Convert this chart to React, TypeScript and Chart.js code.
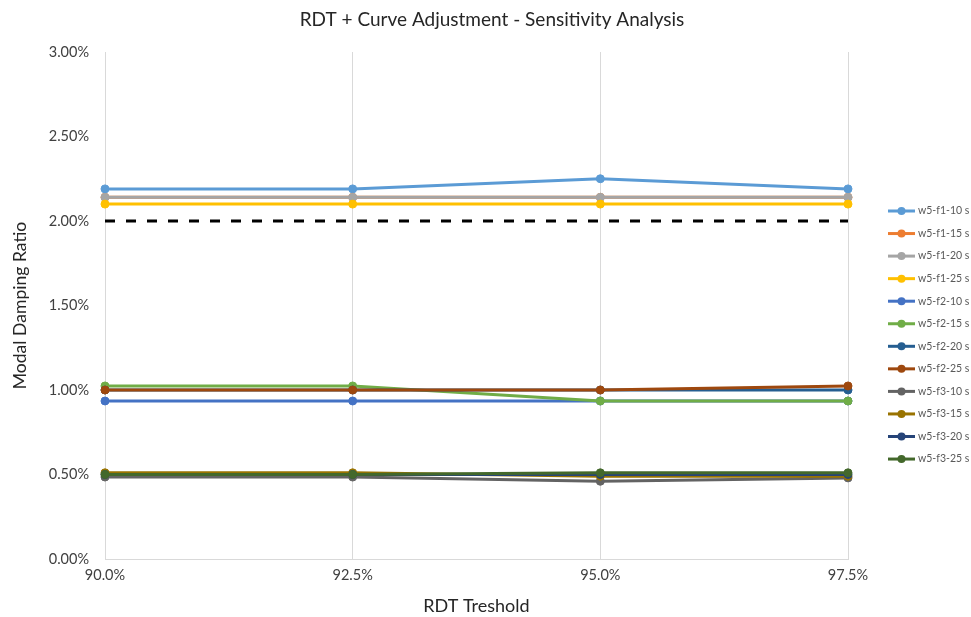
import React, { useEffect, useRef } from 'react';
import { Chart, registerables } from 'chart.js';

Chart.register(...registerables);

const categories = ['90.0%', '92.5%', '95.0%', '97.5%'];

const seriesNames = [
  'w5-f1-10 s', 'w5-f1-15 s', 'w5-f1-20 s', 'w5-f1-25 s',
  'w5-f2-10 s', 'w5-f2-15 s', 'w5-f2-20 s', 'w5-f2-25 s',
  'w5-f3-10 s', 'w5-f3-15 s', 'w5-f3-20 s', 'w5-f3-25 s',
];

const f1_10 = [2.19, 2.19, 2.25, 2.19];
const f1_15 = [2.14, 2.14, 2.14, 2.14];
const f1_20 = [2.14, 2.14, 2.14, 2.14];
const f1_25 = [2.1, 2.1, 2.1, 2.1];
const f2_10 = [0.935, 0.935, 0.935, 0.935];
const f2_15 = [1.024, 1.024, 0.935, 0.935];
const f2_20 = [1.0, 1.0, 1.0, 1.0];
const f2_25 = [1.0, 1.0, 1.0, 1.024];
const f3_10 = [0.485, 0.485, 0.46, 0.48];
const f3_15 = [0.51, 0.51, 0.49, 0.49];
const f3_20 = [0.5, 0.5, 0.5, 0.5];
const f3_25 = [0.5, 0.5, 0.51, 0.51];
const targetLine = [2.0, 2.0, 2.0, 2.0];

const seriesValues = [f1_10, f1_15, f1_20, f1_25, f2_10, f2_15, f2_20, f2_25, f3_10, f3_15, f3_20, f3_25];

const seriesColors = [
  '#5B9BD5', '#ED7D31', '#A5A5A5', '#FFC000',
  '#4472C4', '#70AD47', '#255E91', '#9E480E',
  '#636363', '#997300', '#264478', '#43682B',
];

const yTickValues = [0, 0.5, 1, 1.5, 2, 2.5, 3];

const FONT = 'Lato, "DejaVu Sans", sans-serif';

const sideLegend = {
  id: 'sideLegend',
  afterDraw(chart: any) {
    const ctx = chart.ctx;
    const area = chart.chartArea;
    const x0 = area.right + 40;
    const spacing = 22.55;
    const y0 = area.top + 159;
    const items = chart.data.datasets.filter((d: any) => d.inLegend);
    ctx.save();
    items.forEach((d: any, i: number) => {
      const y = y0 + i * spacing;
      ctx.strokeStyle = d.borderColor;
      ctx.lineWidth = 3;
      ctx.beginPath();
      ctx.moveTo(x0, y);
      ctx.lineTo(x0 + 27, y);
      ctx.stroke();
      ctx.fillStyle = d.borderColor;
      ctx.beginPath();
      ctx.arc(x0 + 13.5, y, 4, 0, Math.PI * 2);
      ctx.fill();
      ctx.fillStyle = '#595959';
      ctx.font = '10.5px ' + FONT;
      ctx.textBaseline = 'middle';
      ctx.textAlign = 'left';
      ctx.fillText(d.label, x0 + 30, y);
    });
    ctx.restore();
  },
};

export default function App() {
  const ref = useRef<HTMLCanvasElement | null>(null);

  useEffect(() => {
    if (!ref.current) return;
    const datasets: any[] = seriesNames.map((name, i) => ({
      label: name,
      data: seriesValues[i],
      borderColor: seriesColors[i],
      backgroundColor: seriesColors[i],
      pointBackgroundColor: seriesColors[i],
      pointBorderColor: seriesColors[i],
      borderWidth: 3,
      pointRadius: 4,
      pointBorderWidth: 1,
      tension: 0,
      fill: false,
      order: 30 - i,
      inLegend: true,
      yAxisID: 'y',
    }));
    datasets.push({
      label: 'target',
      data: targetLine,
      borderColor: '#000000',
      backgroundColor: '#000000',
      borderWidth: 3,
      borderDash: [10, 11],
      pointRadius: 0,
      fill: false,
      order: 40,
      inLegend: false,
      yAxisID: 'y',
    });

    const chart = new Chart(ref.current, {
      type: 'line',
      data: { labels: categories, datasets },
      plugins: [sideLegend],
      options: {
        animation: false,
        responsive: true,
        maintainAspectRatio: false,
        layout: { padding: { left: 13, right: 0, top: 0, bottom: 0 } },
        plugins: {
          legend: { display: false },
          tooltip: { enabled: false },
          title: {
            display: true,
            text: 'RDT + Curve Adjustment - Sensitivity Analysis',
            color: '#262626',
            font: { family: FONT, size: 19, weight: 'normal' },
            padding: { top: 8, bottom: 21.2 },
          },
        },
        scales: {
          x: {
            type: 'category',
            offset: false,
            afterFit(scale: any) { scale.height = 58; },
            grid: { display: true, color: '#D9D9D9', lineWidth: 1, drawTicks: false },
            border: { display: true, color: '#D9D9D9', width: 1 },
            ticks: { color: '#404040', font: { family: FONT, size: 14.5 }, padding: 8, maxRotation: 0 },
            title: {
              display: true,
              text: 'RDT Treshold',
              color: '#262626',
              font: { family: FONT, size: 18 },
              padding: { top: 0, bottom: 0 },
            },
          },
          y: {
            position: 'left',
            min: 0,
            max: 3,
            afterFit(scale: any) { scale.width = 92; },
            afterBuildTicks(scale: any) { scale.ticks = yTickValues.map((v) => ({ value: v })); },
            grid: { display: false, drawTicks: false },
            border: { display: false },
            ticks: {
              color: '#404040',
              font: { family: FONT, size: 14.5 },
              padding: 16,
              callback: (v: any) => Number(v).toFixed(2) + '%',
            },
            title: {
              display: true,
              text: 'Modal Damping Ratio',
              color: '#262626',
              font: { family: FONT, size: 17.6 },
              padding: { top: -3, bottom: 0 },
            },
          },
          legendSpace: {
            type: 'linear',
            position: 'right',
            display: true,
            min: 0,
            max: 3,
            afterFit(scale: any) { scale.width = 123; },
            grid: { display: false, drawTicks: false },
            border: { display: false },
            ticks: { display: false },
          },
        },
      } as any,
    });
    return () => chart.destroy();
  }, []);

  return (
    <div style={{ position: 'fixed', left: 0, top: 0, width: 971, height: 617, background: '#fff' }}>
      <canvas ref={ref} />
    </div>
  );
}
